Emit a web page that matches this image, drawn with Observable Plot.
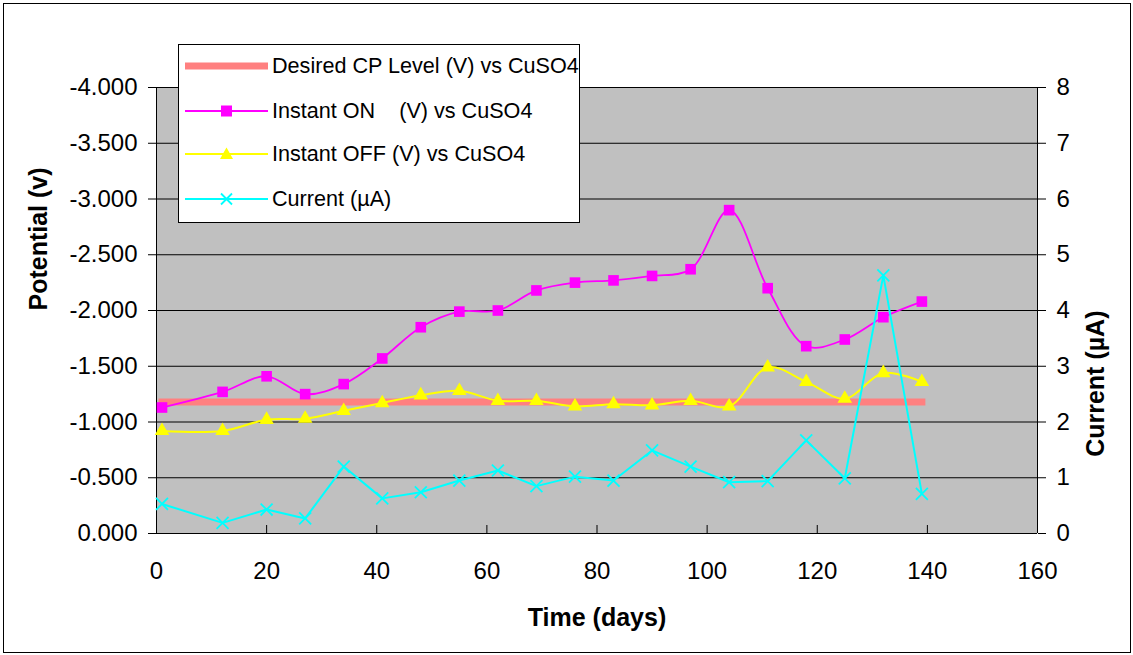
<!DOCTYPE html>
<html><head><meta charset="utf-8">
<script src="https://cdn.jsdelivr.net/npm/d3@7"></script>
<script src="https://cdn.jsdelivr.net/npm/@observablehq/plot@0.6"></script>
<style>
body{margin:0;background:#fff;font-family:"Liberation Sans",Arial,sans-serif}
#wrap{position:relative;width:1133px;height:655px;overflow:hidden}
#border{position:absolute;left:3px;top:3px;width:1126px;height:648px;border:1px solid #000;pointer-events:none}
#legend{position:absolute;left:178px;top:44px;width:402px;height:179px;background:#fff;border:1px solid #000;box-sizing:border-box}
.row{position:absolute;left:6px;height:24px;display:flex;align-items:center;font-size:21.6px;white-space:pre;color:#000}
.row svg{margin-right:3px;display:block}
</style></head><body><div id="wrap"><div id="chart"></div><div id="legend"></div><div id="border"></div></div>
<script>
// ---- data ----
const days = [1,12,20,27,34,41,48,55,62,69,76,83,90,97,104,111,118,125,132,139];
const instantOn = [-1.13,-1.27,-1.41,-1.25,-1.34,-1.57,-1.85,-1.99,-2.00,-2.18,-2.25,-2.27,-2.31,-2.37,-2.90,-2.20,-1.68,-1.74,-1.94,-2.08];
const instantOff = [-0.92,-0.92,-1.02,-1.03,-1.10,-1.17,-1.24,-1.28,-1.19,-1.19,-1.14,-1.16,-1.15,-1.19,-1.14,-1.49,-1.36,-1.21,-1.44,-1.36];
const currentUA = [0.53,0.19,0.43,0.27,1.20,0.63,0.74,0.95,1.13,0.85,1.02,0.95,1.49,1.20,0.92,0.94,1.67,0.99,4.63,0.71];
const desiredLevel = -1.18;
const potentialTicks = [0,-0.5,-1,-1.5,-2,-2.5,-3,-3.5,-4];
const dayTicks = [0,20,40,60,80,100,120,140,160];
const currentMax = 8, potentialMin = -4;
const seriesNames = ["Desired CP Level (V) vs CuSO4","Instant ON    (V) vs CuSO4","Instant OFF (V) vs CuSO4","Current (\u00b5A)"];
const colors = {desired:"#ff8080", on:"#ff00ff", off:"#ffff00", cur:"#00ffff"};

const k = potentialMin / currentMax; // current -> potential axis
const rows = days.map((d,i)=>({day:d, on:instantOn[i], off:instantOff[i], cur:currentUA[i]*k, des:desiredLevel}));
const font = "Liberation Sans, Arial, sans-serif";

const chart = Plot.plot({
  width:1133, height:655,
  marginLeft:156, marginRight:96, marginTop:87, marginBottom:122,
  style:{fontFamily:font, background:"transparent", color:"#000", overflow:"visible"},
  x:{domain:[0,160]},
  y:{domain:[0,-4]},
  marks:[
    Plot.frame({fill:"#c0c0c0", stroke:null}),
    Plot.gridY(potentialTicks, {stroke:"#000", strokeOpacity:1, strokeWidth:1}),
    Plot.ruleX([0,160], {stroke:"#000"}),
    Plot.ruleY([0], {stroke:"#000"}),
    Plot.axisY(potentialTicks, {anchor:"left", tickFormat:d=>d.toFixed(3), tickSize:8, tickPadding:11, fontSize:24, label:null}),
    Plot.axisY(potentialTicks, {anchor:"right", tickFormat:d=>String(d/k), tickSize:8, tickPadding:11, fontSize:24, label:null}),
    Plot.axisX(dayTicks, {anchor:"bottom", tickSize:0, tickPadding:28, fontSize:24, label:null}),
    Plot.axisX(dayTicks, {anchor:"bottom", tickSize:-8, tickFormat:()=>"", label:null}),
    Plot.line(rows, {x:"day", y:"des", stroke:colors.desired, strokeWidth:7, strokeLinecap:"square"}),
    Plot.line(rows, {x:"day", y:"on", stroke:colors.on, strokeWidth:1.8, curve:"catmull-rom"}),
    Plot.dot(rows, {x:"day", y:"on", symbol:"square", r:6, fill:colors.on, stroke:null}),
    Plot.line(rows, {x:"day", y:"off", stroke:colors.off, strokeWidth:2, curve:"catmull-rom"}),
    Plot.dot(rows, {x:"day", y:"off", symbol:"triangle", r:5.4, fill:colors.off, stroke:null}),
    Plot.line(rows, {x:"day", y:"cur", stroke:colors.cur, strokeWidth:2}),
    Plot.dot(rows, {x:"day", y:"cur", symbol:"times", r:5.5, stroke:colors.cur, strokeWidth:1.8}),
    Plot.text(["Potential (v)"], {frameAnchor:"left", dx:-118, rotate:-90, lineAnchor:"middle", fontSize:25, fontWeight:"bold", fill:"#000"}),
    Plot.text(["Current (\u00b5A)"], {frameAnchor:"right", dx:58, rotate:-90, lineAnchor:"middle", fontSize:25, fontWeight:"bold", fill:"#000"}),
    Plot.text(["Time (days)"], {frameAnchor:"bottom", dy:84, lineAnchor:"middle", fontSize:25, fontWeight:"bold", fill:"#000"})
  ]
});
document.getElementById("chart").appendChild(chart);

// legend
const legend = document.getElementById("legend");
const centers = [21,66,109,154];
const symbols = [
  `<line x1="0" y1="12" x2="83" y2="12" stroke="${colors.desired}" stroke-width="7"/>`,
  `<line x1="0" y1="12" x2="83" y2="12" stroke="${colors.on}" stroke-width="1.8"/><rect x="36" y="6.5" width="11" height="11" fill="${colors.on}"/>`,
  `<line x1="0" y1="12" x2="83" y2="12" stroke="${colors.off}" stroke-width="2"/><path d="M41.5,5.5 L48,17 L35,17 Z" fill="${colors.off}"/>`,
  `<line x1="0" y1="12" x2="83" y2="12" stroke="${colors.cur}" stroke-width="2"/><path d="M36,6.5 L47,17.5 M47,6.5 L36,17.5" stroke="${colors.cur}" stroke-width="1.8"/>`
];
seriesNames.forEach((name,i)=>{
  const row = document.createElement("div");
  row.className = "row";
  row.style.top = (centers[i]-12) + "px";
  row.innerHTML = `<svg width="84" height="24">${symbols[i]}</svg><span>${name}</span>`;
  legend.appendChild(row);
});
</script></body></html>
